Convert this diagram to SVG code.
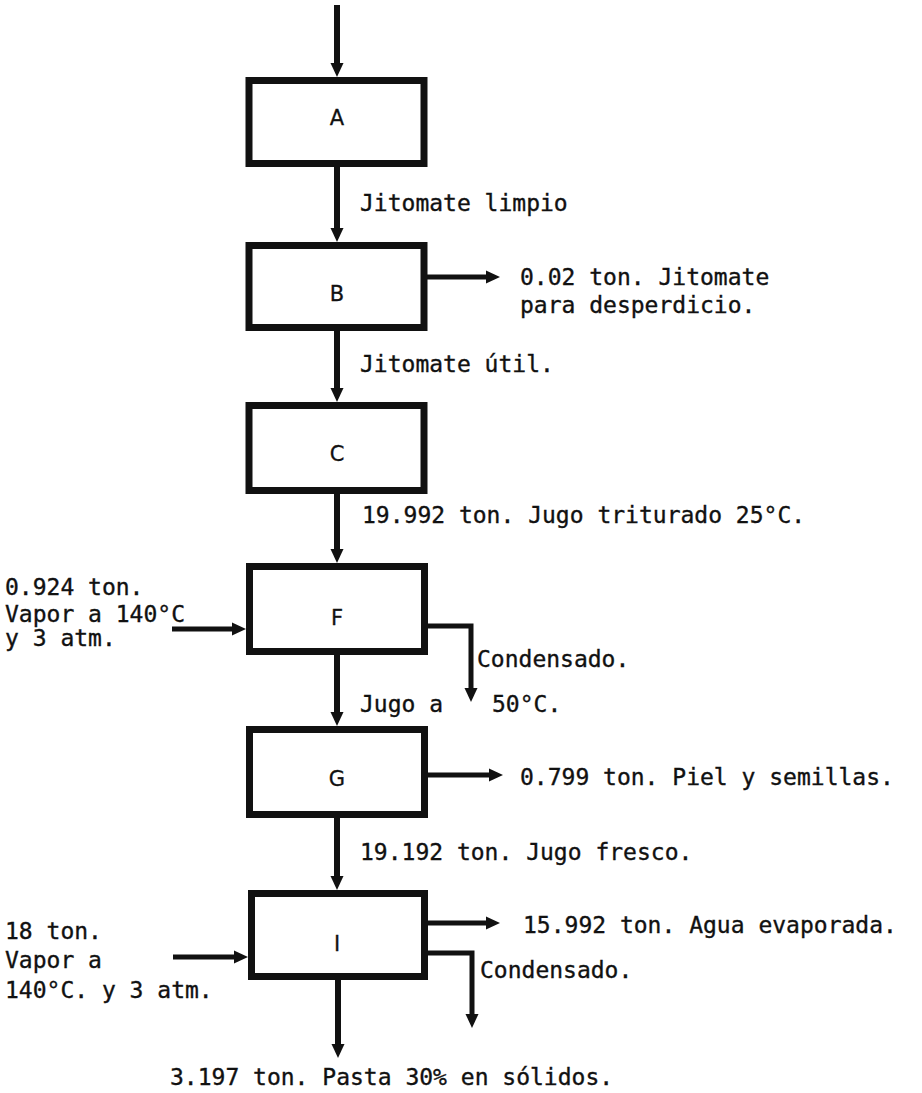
<svg xmlns="http://www.w3.org/2000/svg" width="922" height="1093" viewBox="0 0 922 1093">
<style>
.box{fill:#fff;stroke:#111;stroke-width:7}
.lbl{font-family:"DejaVu Sans","Liberation Sans",sans-serif;font-size:21px;fill:#111;stroke:#111;stroke-width:0.3;text-anchor:middle}
.t{font-family:"DejaVu Sans Mono","Liberation Mono",monospace;font-size:23px;fill:#111;stroke:#111;stroke-width:0.35}
.c{fill:none;stroke:#111;stroke-width:6;marker-end:url(#ah)}
.s{fill:none;stroke:#111;stroke-width:5;marker-end:url(#ah)}
</style>
<defs>
<marker id="ah" markerUnits="userSpaceOnUse" markerWidth="15" markerHeight="14" refX="2" refY="7" orient="auto" viewBox="0 0 15 14">
<path d="M0,0.5 L14,7 L0,13.5 z" fill="#111"/>
</marker>
</defs>
<rect width="922" height="1093" fill="#fff"/>
<g id="connectors">
<path class="c" d="M337 5 V65"/>
<path class="c" d="M337 167 V230"/>
<path class="c" d="M337 331 V390"/>
<path class="c" d="M337 494 V551"/>
<path class="c" d="M337 655 V714"/>
<path class="c" d="M337 818 V878"/>
<path class="c" d="M338 980 V1046"/>
<path class="s" d="M427 277 H488"/>
<path class="s" d="M172 629 H234"/>
<path class="s" d="M428 626 H471 V690"/>
<path class="s" d="M428 775 H491"/>
<path class="s" d="M173 957 H236"/>
<path class="s" d="M428 923 H488"/>
<path class="s" d="M428 953 H472 V1016"/>
</g>
<g id="A"><rect class="box" x="249" y="80.5" width="175" height="83"/><text class="lbl" x="337" y="125">A</text></g>
<g id="B"><rect class="box" x="249" y="245.5" width="175" height="82"/><text class="lbl" x="337" y="301">B</text></g>
<g id="C"><rect class="box" x="249" y="405.5" width="175" height="85"/><text class="lbl" x="337" y="461">C</text></g>
<g id="F"><rect class="box" x="249.5" y="566.5" width="175" height="85"/><text class="lbl" x="337" y="625">F</text></g>
<g id="G"><rect class="box" x="249.5" y="729.5" width="175" height="85"/><text class="lbl" x="337" y="786">G</text></g>
<g id="I"><rect class="box" x="251.5" y="893.5" width="173" height="83"/><text class="lbl" x="337" y="951">I</text></g>
<g id="labels">
<text class="t" x="360" y="211">Jitomate limpio</text>
<text class="t" x="520" y="285">0.02 ton. Jitomate</text>
<text class="t" x="520" y="313">para desperdicio.</text>
<text class="t" x="360" y="372">Jitomate útil.</text>
<text class="t" x="362" y="523">19.992 ton. Jugo triturado 25°C.</text>
<text class="t" x="5" y="595">0.924 ton.</text>
<text class="t" x="5" y="622">Vapor a 140°C</text>
<text class="t" x="5" y="646">y 3 atm.</text>
<text class="t" x="477" y="667">Condensado.</text>
<text class="t" x="360" y="712">Jugo a</text>
<text class="t" x="492" y="712">50°C.</text>
<text class="t" x="520" y="785">0.799 ton. Piel y semillas.</text>
<text class="t" x="360" y="860">19.192 ton. Jugo fresco.</text>
<text class="t" x="5" y="939">18 ton.</text>
<text class="t" x="5" y="968">Vapor a</text>
<text class="t" x="5" y="998">140°C. y 3 atm.</text>
<text class="t" x="523" y="933">15.992 ton. Agua evaporada.</text>
<text class="t" x="480" y="978">Condensado.</text>
<text class="t" x="170" y="1085">3.197 ton. Pasta 30% en sólidos.</text>
</g>
</svg>
